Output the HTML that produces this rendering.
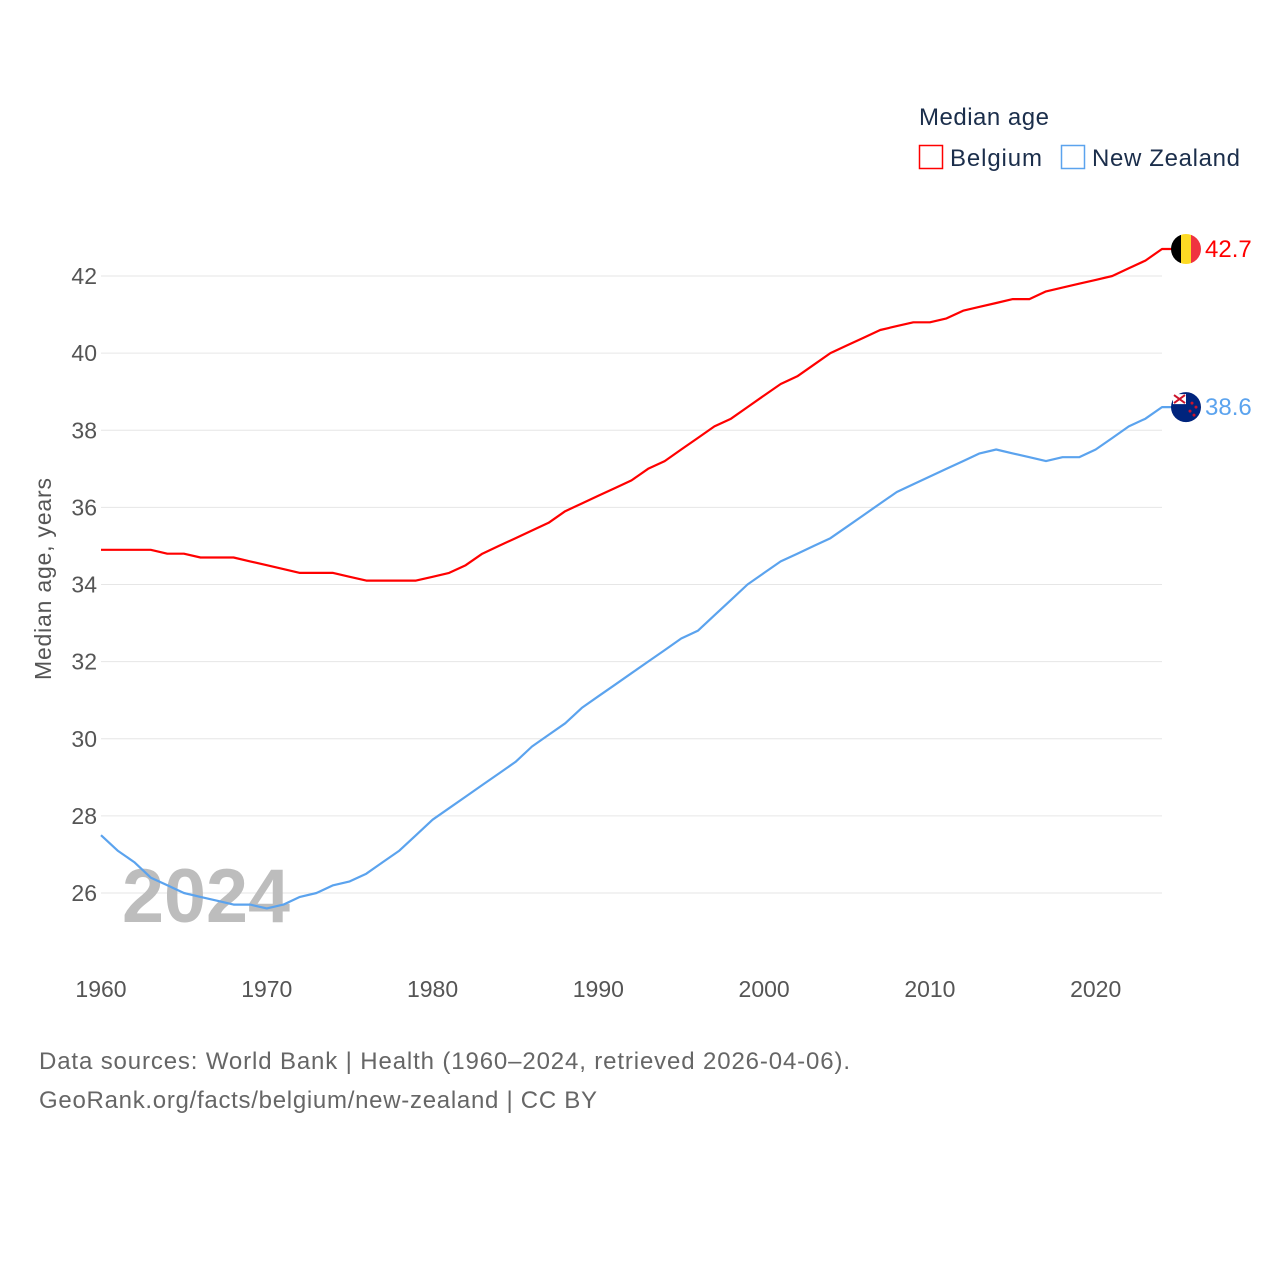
<!DOCTYPE html>
<html><head><meta charset="utf-8"><style>
body{margin:0;background:#fff;}
svg{display:block;font-family:"Liberation Sans",sans-serif;}
</style></head><body>
<svg id="chart" width="1280" height="1280" viewBox="0 0 1280 1280">
<g id="grid"></g>
<g id="yt"></g>
<g id="xt"></g>
<text x="122" y="922" font-size="76" font-weight="bold" fill="#bdbdbd" textLength="168" lengthAdjust="spacingAndGlyphs">2024</text>
<text transform="translate(51,579) rotate(-90)" text-anchor="middle" font-size="23" fill="#555" textLength="202">Median age, years</text>
<g id="series"></g>
<text x="919" y="125" font-size="24" fill="#1b2e4b" textLength="130">Median age</text>
<g><rect x="919.5" y="145.5" width="23" height="23" fill="none" stroke="#ff0000" stroke-width="1.5"/><text x="950" y="166" font-size="24" fill="#1b2e4b" textLength="92">Belgium</text></g>
<g><rect x="1061.5" y="145.5" width="23" height="23" fill="none" stroke="#5ba3ee" stroke-width="1.5"/><text x="1092" y="166" font-size="24" fill="#1b2e4b" textLength="148">New Zealand</text></g>
<text x="39" y="1069" font-size="24" fill="#666" textLength="811">Data sources: World Bank | Health (1960–2024, retrieved 2026-04-06).</text>
<text x="39" y="1108" font-size="24" fill="#666" textLength="558">GeoRank.org/facts/belgium/new-zealand | CC BY</text>
</svg>
<script>
const years=[];for(let y=1960;y<=2024;y++)years.push(y);
const belgium=[34.9,34.9,34.9,34.9,34.8,34.8,34.7,34.7,34.7,34.6,34.5,34.4,34.3,34.3,34.3,34.2,34.1,34.1,34.1,34.1,34.2,34.3,34.5,34.8,35.0,35.2,35.4,35.6,35.9,36.1,36.3,36.5,36.7,37.0,37.2,37.5,37.8,38.1,38.3,38.6,38.9,39.2,39.4,39.7,40.0,40.2,40.4,40.6,40.7,40.8,40.8,40.9,41.1,41.2,41.3,41.4,41.4,41.6,41.7,41.8,41.9,42.0,42.2,42.4,42.7];
const newZealand=[27.5,27.1,26.8,26.4,26.2,26.0,25.9,25.8,25.7,25.7,25.6,25.7,25.9,26.0,26.2,26.3,26.5,26.8,27.1,27.5,27.9,28.2,28.5,28.8,29.1,29.4,29.8,30.1,30.4,30.8,31.1,31.4,31.7,32.0,32.3,32.6,32.8,33.2,33.6,34.0,34.3,34.6,34.8,35.0,35.2,35.5,35.8,36.1,36.4,36.6,36.8,37.0,37.2,37.4,37.5,37.4,37.3,37.2,37.3,37.3,37.5,37.8,38.1,38.3,38.6];
const yTicks=[26,28,30,32,34,36,38,40,42];
const xTicks=[1960,1970,1980,1990,2000,2010,2020];
const NS='http://www.w3.org/2000/svg';
const X=y=>101+(y-1960)*(1162-101)/64;
const Y=v=>893-(v-26)*(893-276)/16;
function mk(tag,attrs,parent){const e=document.createElementNS(NS,tag);for(const k in attrs)e.setAttribute(k,attrs[k]);parent.appendChild(e);return e;}
const grid=document.getElementById('grid'),yt=document.getElementById('yt'),xt=document.getElementById('xt'),ser=document.getElementById('series');
yTicks.forEach(v=>{
  const l=mk('line',{x1:101,x2:1162,y1:Y(v),y2:Y(v),stroke:'#e6e6e6','stroke-width':1},grid);
  
  
  const t=mk('text',{x:97,y:Y(v)+8,'text-anchor':'end','font-size':23,fill:'#555'},yt);t.textContent=v;
  
  
});
xTicks.forEach(v=>{
  const t=mk('text',{x:X(v),y:997,'text-anchor':'middle','font-size':23,fill:'#555'},xt);t.textContent=v;
  
  
});
function draw(vals,color,name){
  let d=vals.map((v,i)=>(i?'L':'M')+X(years[i]).toFixed(1)+','+Y(v).toFixed(1)).join('');
  const last=vals[vals.length-1];
  d+='L'+(X(2024)+12)+','+Y(last).toFixed(1);
  const p=mk('path',{d:d,fill:'none',stroke:color,'stroke-width':2.2,'stroke-linejoin':'round'},ser);
  
  
  const t=mk('text',{x:1205,y:Y(last)+8,'font-size':24,fill:color},ser);t.textContent=last.toFixed(1);
  
  
  return Y(last);
}
const by=draw(belgium,'#ff0000','belgium');
const ny=draw(newZealand,'#5ba3ee','new-zealand');
const fb=mk('g',{},ser);


mk('clipPath',{id:'cb'},fb).appendChild(document.createElementNS(NS,'circle'));
const cb=fb.querySelector('circle');cb.setAttribute('cx',1186);cb.setAttribute('cy',by);cb.setAttribute('r',15);
const gb=mk('g',{'clip-path':'url(#cb)'},fb);
mk('rect',{x:1171,y:by-15,width:10,height:30,fill:'#000'},gb);
mk('rect',{x:1181,y:by-15,width:10,height:30,fill:'#fdda24'},gb);
mk('rect',{x:1191,y:by-15,width:10,height:30,fill:'#ef3340'},gb);
const fn=mk('g',{},ser);


mk('circle',{cx:1186,cy:ny,r:15,fill:'#00247d'},fn);
mk('rect',{x:1173,y:ny-13,width:13,height:10,fill:'#fff'},fn);
mk('path',{d:`M1174,${ny-12}L1185,${ny-4}M1185,${ny-12}L1174,${ny-4}`,stroke:'#cc142b','stroke-width':2},fn);
[[1192,-4],[1196,0],[1190,4],[1194,8]].forEach(s=>mk('circle',{cx:s[0],cy:ny+s[1],r:1.5,fill:'#cc142b'},fn));
</script>
</body></html>
